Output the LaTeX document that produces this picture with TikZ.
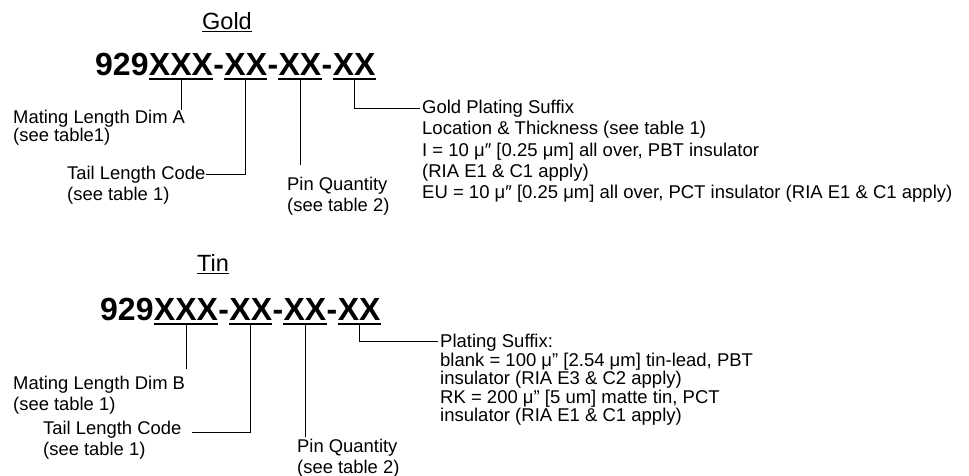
\documentclass[tikz,border=0pt]{standalone}
\usepackage{fontspec}
\setmainfont{Liberation Sans}
\usetikzlibrary{calc}

\begin{document}
\begin{tikzpicture}[
    x=1pt,y=-1pt,
    title/.style={font=\fontsize{23.5}{26}\selectfont,inner sep=0pt},
    code/.style={font=\fontsize{32}{36}\selectfont\bfseries,inner sep=0pt,anchor=base west},
    label/.style={align=left,anchor=north west,inner sep=0pt,
                  font=\fontsize{18.4}{20.5}\selectfont},
    note/.style={align=left,anchor=north west,inner sep=0pt,
                 font=\fontsize{18.5}{21.3}\selectfont},
    uline/.style={line width=1.6pt},
    lead/.style={line width=0.9pt}
]
\useasboundingbox (0,0) rectangle (969,475);

% Gold
\node[title] (goldttl) at (227,22) {\underline{Gold}};
\node[code] (g929) at (95,75) {929};
\node[code] (gA) at (g929.base east) {XXX};
\node[code] (gd1) at (gA.base east) {-};
\node[code] (gB) at (gd1.base east) {XX};
\node[code] (gd2) at (gB.base east) {-};
\node[code] (gC) at (gd2.base east) {XX};
\node[code] (gd3) at (gC.base east) {-};
\node[code] (gD) at (gd3.base east) {XX};
\foreach \n in {gA,gB,gC,gD} {
  \draw[uline] ([yshift=-4pt]\n.base west) -- ([yshift=-4pt]\n.base east);
  \coordinate (\n u) at ([yshift=-4pt]\n.base);
}

\node[label,font=\fontsize{18.4}{18}\selectfont] (gmate) at (13,110)
    {Mating Length Dim A\\(see table1)};
\node[label] (gtail) at (67,166) {Tail Length Code\\(see table 1)};
\node[label] (gpin) at (287,177) {Pin Quantity\\(see table 2)};
\node[note] (gsuf) at (422,100) {Gold Plating Suffix\\
    Location \& Thickness (see table 1)\\
    I = 10 μ″ [0.25 μm] all over, PBT insulator\\
    (RIA E1 \& C1 apply)\\
    EU = 10 μ″ [0.25 μm] all over, PCT insulator (RIA E1 \& C1 apply)};

\draw[lead] (gAu) -- (gAu |- gmate.north);
\draw[lead] (gBu) |- ($(gtail.north east)+(0,8)$);
\draw[lead,shorten >=12pt] (gCu) -- (gCu |- gpin.north);
\draw[lead] (gDu) |- ($(gsuf.north west)+(-2,8)$);

% Tin
\node[title] (tinttl) at (213,264) {\underline{Tin}};
\node[code] (t929) at (100,320) {929};
\node[code] (tA) at (t929.base east) {XXX};
\node[code] (td1) at (tA.base east) {-};
\node[code] (tB) at (td1.base east) {XX};
\node[code] (td2) at (tB.base east) {-};
\node[code] (tC) at (td2.base east) {XX};
\node[code] (td3) at (tC.base east) {-};
\node[code] (tD) at (td3.base east) {XX};
\foreach \n in {tA,tB,tC,tD} {
  \draw[uline] ([yshift=-4pt]\n.base west) -- ([yshift=-4pt]\n.base east);
  \coordinate (\n u) at ([yshift=-4pt]\n.base);
}

\node[label] (tmate) at (13,376) {Mating Length Dim B\\(see table 1)};
\node[label] (ttail) at (43,421) {Tail Length Code\\(see table 1)};
\node[label] (tpin) at (297,439) {Pin Quantity\\(see table 2)};
\node[note,font=\fontsize{18.5}{18.5}\selectfont] (tsuf) at (440,334) {Plating Suffix:\\
    blank = 100 μ" [2.54 μm] tin-lead, PBT\\
    insulator (RIA E3 \& C2 apply)\\
    RK = 200 μ" [5 um] matte tin, PCT\\
    insulator (RIA E1 \& C1 apply)};

\draw[lead,shorten >=7pt] (tAu) -- (tAu |- tmate.north);
\draw[lead] (tBu) |- ($(ttail.north east)+(10,11)$);
\draw[lead,shorten >=2pt] (tCu) -- (tCu |- tpin.north);
\draw[lead] (tDu) |- ($(tsuf.north west)+(-2,7)$);
\end{tikzpicture}
\end{document}
